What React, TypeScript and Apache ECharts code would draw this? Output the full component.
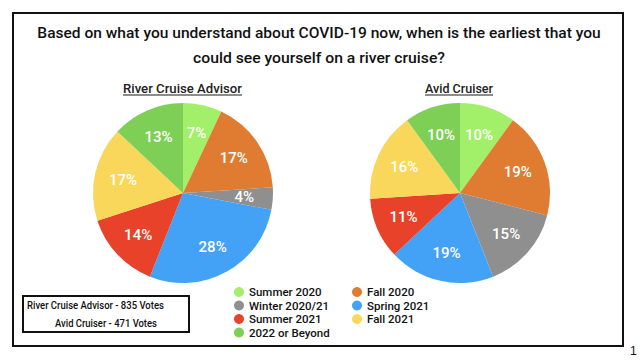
import React, { useEffect, useRef } from "react";
import * as echarts from "echarts";

const categories = ["Summer 2020", "Fall 2020", "Winter 2020/21", "Spring 2021", "Summer 2021", "Fall 2021", "2022 or Beyond"];
const advisorValues = [7, 17, 4, 28, 14, 17, 13];
const avidValues = [10, 19, 15, 19, 11, 16, 10];
const sliceColors = ["#a2ef6a", "#e07b32", "#8f8f8f", "#43a2f5", "#e9422a", "#f8d75a", "#7dcf55"];
const legendCol1 = ["Summer 2020", "Winter 2020/21", "Summer 2021", "2022 or Beyond"];
const legendCol2 = ["Fall 2020", "Spring 2021", "Fall 2021"];
const titleLines = ["Based on what you understand about COVID-19 now, when is the earliest that you", "could see yourself on a river cruise?"];
const pieTitles = ["River Cruise Advisor", "Avid Cruiser"];
const voteLines = ["River Cruise Advisor - 835 Votes", "Avid Cruiser - 471 Votes"];

const FONT = "Roboto, 'Liberation Sans', sans-serif";

function measure(text: string, size: number, weight: string | number) {
  const c = document.createElement("canvas").getContext("2d");
  if (!c) return text.length * size * 0.5;
  c.font = `${weight} ${size}px ${FONT}`;
  return c.measureText(text).width;
}

export default function App() {
  const ref = useRef<HTMLDivElement>(null);
  useEffect(() => {
    if (!ref.current) return;
    const chart = echarts.init(ref.current, undefined, { renderer: "svg" });
    const mk = (vals: number[]) => categories.map((n, i) => ({ name: n, value: vals[i], itemStyle: { color: sliceColors[i] } }));
    const mkLabel = (vals: number[]) => categories.map((n, i) => ({ name: n, value: vals[i], itemStyle: { color: "rgba(0,0,0,0)" } }));
    const centers = [[183, 193], [460, 193]];
    const R = 90;

    const fitText = (text: string, x: number, y: number, size: number, weight: string | number, width: number, align: string, color: string) => {
      const w = measure(text, size, weight);
      const s = Math.min(1.2, width / w);
      return {
        type: "text",
        x,
        y,
        scaleX: s,
        scaleY: 1,
        style: { text, fontSize: size, fontWeight: weight, fill: color, fontFamily: FONT, align, verticalAlign: "middle" },
      };
    };

    const pieBase = (c: number[], data: any[]) => ({
      type: "pie",
      center: c,
      radius: R,
      startAngle: 90,
      clockwise: true,
      data,
      label: { show: false },
      labelLine: { show: false },
      silent: true,
    });
    const labelSeries = (c: number[], data: any[]) => ({
      type: "pie",
      center: c,
      radius: R * 1.3,
      startAngle: 90,
      clockwise: true,
      data,
      silent: true,
      legendHoverLink: false,
      label: {
        show: true,
        position: "inside",
        formatter: "{c}%",
        color: "#ffffff",
        fontSize: 15,
        fontWeight: 500,
        fontFamily: FONT,
      },
      labelLine: { show: false },
    });
    const legendBase = {
      orient: "vertical",
      top: 281,
      icon: "circle",
      itemWidth: 10,
      itemHeight: 10,
      itemGap: 1.5,
      textStyle: { fontSize: 11.5, fontWeight: 500, color: "#111", fontFamily: FONT },
      selectedMode: false,
    };
    chart.setOption({
      animation: false,
      backgroundColor: "#ffffff",
      legend: [
        { ...legendBase, left: 229, data: legendCol1 },
        { ...legendBase, left: 347, data: legendCol2 },
      ],
      graphic: [
        { type: "rect", shape: { x: 13, y: 13, width: 610, height: 333 }, style: { fill: "none", stroke: "#111", lineWidth: 2 } },
        { type: "rect", shape: { x: 23, y: 296, width: 166, height: 36 }, style: { fill: "none", stroke: "#111", lineWidth: 2 } },
        fitText(titleLines[0], 319, 33, 15, 500, 564, "center", "#111"),
        fitText(titleLines[1], 319, 58, 15, 500, 252, "center", "#111"),
        fitText(pieTitles[0], 182.5, 88, 13.5, 500, 119, "center", "#222"),
        fitText(pieTitles[1], 459, 88, 13.5, 500, 68, "center", "#222"),
        fitText(voteLines[0], 27, 305, 10, 500, 137, "left", "#111"),
        fitText(voteLines[1], 106, 323, 10, 500, 102, "center", "#111"),
        { type: "line", shape: { x1: 123, y1: 95, x2: 242, y2: 95 }, style: { stroke: "#666", lineWidth: 1.5 } },
        { type: "line", shape: { x1: 425, y1: 95, x2: 493, y2: 95 }, style: { stroke: "#666", lineWidth: 1.5 } },
        { type: "text", x: 630, y: 351, style: { text: "1", fontSize: 12, fill: "#111", fontFamily: "'Liberation Sans', Arial, sans-serif", align: "left", verticalAlign: "middle" } },
      ],
      series: [
        pieBase(centers[0], mk(advisorValues)),
        pieBase(centers[1], mk(avidValues)),
        labelSeries(centers[0], mkLabel(advisorValues)),
        labelSeries(centers[1], mkLabel(avidValues)),
      ],
    });
    return () => chart.dispose();
  }, []);
  return <div ref={ref} style={{ position: "fixed", left: 0, top: 0, width: 640, height: 360 }} />;
}
